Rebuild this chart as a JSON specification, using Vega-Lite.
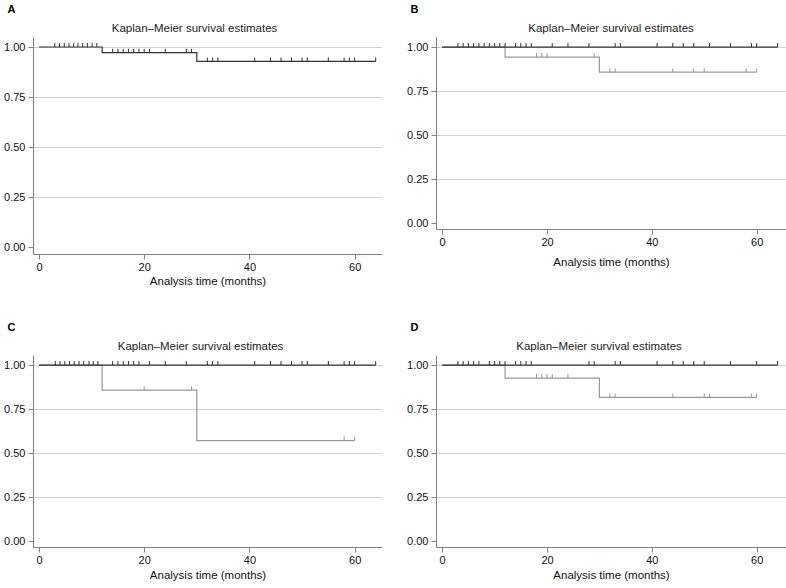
{
  "$schema": "https://vega.github.io/schema/vega-lite/v6.json",
  "padding": {"left": 3, "top": 3, "right": 0, "bottom": 0},
  "background": "white",
  "spacing": 34,
  "config": {
    "font": "Liberation Sans",
    "view": {"stroke": null},
    "concat": {"spacing": 24},
    "title": {"font": "Liberation Sans", "fontSize": 11.5, "fontWeight": "normal", "color": "#222222"},
    "axis": {
      "labelFont": "Liberation Sans", "labelFontSize": 11, "labelColor": "#111111",
      "titleFont": "Liberation Sans", "titleFontSize": 11.5, "titleFontWeight": "normal", "titleColor": "#111111",
      "domainColor": "#808080", "tickColor": "#808080", "gridColor": "#d0d0d0",
      "tickSize": 5, "labelPadding": 2
    }
  },
  "datasets": {
    "curves": [
      {"p": "A", "g": "1", "t": 0, "s": 1}, {"p": "A", "g": "1", "t": 12, "s": 0.972}, {"p": "A", "g": "1", "t": 30, "s": 0.928}, {"p": "A", "g": "1", "t": 64, "s": 0.928},
      {"p": "B", "g": "1", "t": 0, "s": 1}, {"p": "B", "g": "1", "t": 64, "s": 1},
      {"p": "B", "g": "2", "t": 0, "s": 1}, {"p": "B", "g": "2", "t": 12, "s": 0.943}, {"p": "B", "g": "2", "t": 30, "s": 0.857}, {"p": "B", "g": "2", "t": 60, "s": 0.857},
      {"p": "C", "g": "1", "t": 0, "s": 1}, {"p": "C", "g": "1", "t": 64, "s": 1},
      {"p": "C", "g": "2", "t": 0, "s": 1}, {"p": "C", "g": "2", "t": 12, "s": 0.857}, {"p": "C", "g": "2", "t": 30, "s": 0.571}, {"p": "C", "g": "2", "t": 60, "s": 0.571},
      {"p": "D", "g": "1", "t": 0, "s": 1}, {"p": "D", "g": "1", "t": 64, "s": 1},
      {"p": "D", "g": "2", "t": 0, "s": 1}, {"p": "D", "g": "2", "t": 12, "s": 0.926}, {"p": "D", "g": "2", "t": 30, "s": 0.816}, {"p": "D", "g": "2", "t": 60, "s": 0.816}
    ],
    "cens": [
      {"p": "A", "g": "1", "t": 3.0, "s": 1}, {"p": "A", "g": "1", "t": 3.9, "s": 1}, {"p": "A", "g": "1", "t": 4.8, "s": 1}, {"p": "A", "g": "1", "t": 5.7, "s": 1}, {"p": "A", "g": "1", "t": 6.6, "s": 1},
      {"p": "A", "g": "1", "t": 7.4, "s": 1}, {"p": "A", "g": "1", "t": 8.3, "s": 1}, {"p": "A", "g": "1", "t": 9.2, "s": 1}, {"p": "A", "g": "1", "t": 10.1, "s": 1}, {"p": "A", "g": "1", "t": 11.0, "s": 1},
      {"p": "A", "g": "1", "t": 14, "s": 0.972}, {"p": "A", "g": "1", "t": 15, "s": 0.972}, {"p": "A", "g": "1", "t": 16, "s": 0.972}, {"p": "A", "g": "1", "t": 17, "s": 0.972},
      {"p": "A", "g": "1", "t": 18, "s": 0.972}, {"p": "A", "g": "1", "t": 19, "s": 0.972}, {"p": "A", "g": "1", "t": 20, "s": 0.972}, {"p": "A", "g": "1", "t": 21, "s": 0.972},
      {"p": "A", "g": "1", "t": 24, "s": 0.972}, {"p": "A", "g": "1", "t": 28, "s": 0.972}, {"p": "A", "g": "1", "t": 29, "s": 0.972},
      {"p": "A", "g": "1", "t": 32, "s": 0.928}, {"p": "A", "g": "1", "t": 33, "s": 0.928}, {"p": "A", "g": "1", "t": 34, "s": 0.928}, {"p": "A", "g": "1", "t": 41, "s": 0.928},
      {"p": "A", "g": "1", "t": 44, "s": 0.928}, {"p": "A", "g": "1", "t": 46, "s": 0.928}, {"p": "A", "g": "1", "t": 48, "s": 0.928}, {"p": "A", "g": "1", "t": 50, "s": 0.928},
      {"p": "A", "g": "1", "t": 51, "s": 0.928}, {"p": "A", "g": "1", "t": 55, "s": 0.928}, {"p": "A", "g": "1", "t": 58, "s": 0.928}, {"p": "A", "g": "1", "t": 59, "s": 0.928},
      {"p": "A", "g": "1", "t": 60, "s": 0.928}, {"p": "A", "g": "1", "t": 64, "s": 0.928},

      {"p": "B", "g": "1", "t": 3, "s": 1}, {"p": "B", "g": "1", "t": 4, "s": 1}, {"p": "B", "g": "1", "t": 5, "s": 1}, {"p": "B", "g": "1", "t": 6, "s": 1}, {"p": "B", "g": "1", "t": 7, "s": 1},
      {"p": "B", "g": "1", "t": 8, "s": 1}, {"p": "B", "g": "1", "t": 9, "s": 1}, {"p": "B", "g": "1", "t": 10, "s": 1}, {"p": "B", "g": "1", "t": 11, "s": 1}, {"p": "B", "g": "1", "t": 12, "s": 1},
      {"p": "B", "g": "1", "t": 14, "s": 1}, {"p": "B", "g": "1", "t": 15, "s": 1}, {"p": "B", "g": "1", "t": 16, "s": 1}, {"p": "B", "g": "1", "t": 17, "s": 1}, {"p": "B", "g": "1", "t": 21, "s": 1},
      {"p": "B", "g": "1", "t": 24, "s": 1}, {"p": "B", "g": "1", "t": 28, "s": 1}, {"p": "B", "g": "1", "t": 33, "s": 1}, {"p": "B", "g": "1", "t": 34, "s": 1}, {"p": "B", "g": "1", "t": 41, "s": 1},
      {"p": "B", "g": "1", "t": 44, "s": 1}, {"p": "B", "g": "1", "t": 46, "s": 1}, {"p": "B", "g": "1", "t": 48, "s": 1}, {"p": "B", "g": "1", "t": 51, "s": 1}, {"p": "B", "g": "1", "t": 55, "s": 1},
      {"p": "B", "g": "1", "t": 59, "s": 1}, {"p": "B", "g": "1", "t": 60, "s": 1}, {"p": "B", "g": "1", "t": 64, "s": 1},
      {"p": "B", "g": "2", "t": 18, "s": 0.943}, {"p": "B", "g": "2", "t": 19, "s": 0.943}, {"p": "B", "g": "2", "t": 20, "s": 0.943}, {"p": "B", "g": "2", "t": 29, "s": 0.943},
      {"p": "B", "g": "2", "t": 32, "s": 0.857}, {"p": "B", "g": "2", "t": 33, "s": 0.857}, {"p": "B", "g": "2", "t": 44, "s": 0.857}, {"p": "B", "g": "2", "t": 48, "s": 0.857},
      {"p": "B", "g": "2", "t": 50, "s": 0.857}, {"p": "B", "g": "2", "t": 58, "s": 0.857}, {"p": "B", "g": "2", "t": 60, "s": 0.857},

      {"p": "C", "g": "1", "t": 3.1, "s": 1}, {"p": "C", "g": "1", "t": 4.0, "s": 1}, {"p": "C", "g": "1", "t": 4.9, "s": 1}, {"p": "C", "g": "1", "t": 5.8, "s": 1}, {"p": "C", "g": "1", "t": 6.7, "s": 1},
      {"p": "C", "g": "1", "t": 7.6, "s": 1}, {"p": "C", "g": "1", "t": 8.5, "s": 1}, {"p": "C", "g": "1", "t": 9.5, "s": 1}, {"p": "C", "g": "1", "t": 10.3, "s": 1}, {"p": "C", "g": "1", "t": 11.2, "s": 1},
      {"p": "C", "g": "1", "t": 14, "s": 1}, {"p": "C", "g": "1", "t": 15, "s": 1}, {"p": "C", "g": "1", "t": 16, "s": 1}, {"p": "C", "g": "1", "t": 17, "s": 1}, {"p": "C", "g": "1", "t": 18, "s": 1},
      {"p": "C", "g": "1", "t": 19, "s": 1}, {"p": "C", "g": "1", "t": 21, "s": 1}, {"p": "C", "g": "1", "t": 24, "s": 1}, {"p": "C", "g": "1", "t": 28, "s": 1}, {"p": "C", "g": "1", "t": 32, "s": 1},
      {"p": "C", "g": "1", "t": 33, "s": 1}, {"p": "C", "g": "1", "t": 34, "s": 1}, {"p": "C", "g": "1", "t": 41, "s": 1}, {"p": "C", "g": "1", "t": 44, "s": 1}, {"p": "C", "g": "1", "t": 46, "s": 1},
      {"p": "C", "g": "1", "t": 48, "s": 1}, {"p": "C", "g": "1", "t": 50, "s": 1}, {"p": "C", "g": "1", "t": 51, "s": 1}, {"p": "C", "g": "1", "t": 55, "s": 1}, {"p": "C", "g": "1", "t": 58, "s": 1},
      {"p": "C", "g": "1", "t": 59, "s": 1}, {"p": "C", "g": "1", "t": 60, "s": 1}, {"p": "C", "g": "1", "t": 64, "s": 1},
      {"p": "C", "g": "2", "t": 20, "s": 0.857}, {"p": "C", "g": "2", "t": 29, "s": 0.857},
      {"p": "C", "g": "2", "t": 58, "s": 0.571}, {"p": "C", "g": "2", "t": 60, "s": 0.571},

      {"p": "D", "g": "1", "t": 3, "s": 1}, {"p": "D", "g": "1", "t": 4, "s": 1}, {"p": "D", "g": "1", "t": 5, "s": 1}, {"p": "D", "g": "1", "t": 6, "s": 1}, {"p": "D", "g": "1", "t": 7, "s": 1},
      {"p": "D", "g": "1", "t": 9, "s": 1}, {"p": "D", "g": "1", "t": 10, "s": 1}, {"p": "D", "g": "1", "t": 11, "s": 1}, {"p": "D", "g": "1", "t": 12, "s": 1},
      {"p": "D", "g": "1", "t": 14, "s": 1}, {"p": "D", "g": "1", "t": 15, "s": 1}, {"p": "D", "g": "1", "t": 16, "s": 1}, {"p": "D", "g": "1", "t": 17, "s": 1},
      {"p": "D", "g": "1", "t": 28, "s": 1}, {"p": "D", "g": "1", "t": 29, "s": 1}, {"p": "D", "g": "1", "t": 33, "s": 1}, {"p": "D", "g": "1", "t": 34, "s": 1}, {"p": "D", "g": "1", "t": 41, "s": 1},
      {"p": "D", "g": "1", "t": 44, "s": 1}, {"p": "D", "g": "1", "t": 46, "s": 1}, {"p": "D", "g": "1", "t": 48, "s": 1}, {"p": "D", "g": "1", "t": 50, "s": 1}, {"p": "D", "g": "1", "t": 55, "s": 1},
      {"p": "D", "g": "1", "t": 60, "s": 1}, {"p": "D", "g": "1", "t": 64, "s": 1},
      {"p": "D", "g": "2", "t": 18, "s": 0.926}, {"p": "D", "g": "2", "t": 19, "s": 0.926}, {"p": "D", "g": "2", "t": 20, "s": 0.926}, {"p": "D", "g": "2", "t": 21, "s": 0.926}, {"p": "D", "g": "2", "t": 24, "s": 0.926},
      {"p": "D", "g": "2", "t": 32, "s": 0.816}, {"p": "D", "g": "2", "t": 33, "s": 0.816}, {"p": "D", "g": "2", "t": 44, "s": 0.816}, {"p": "D", "g": "2", "t": 50, "s": 0.816},
      {"p": "D", "g": "2", "t": 51, "s": 0.816}, {"p": "D", "g": "2", "t": 59, "s": 0.816}, {"p": "D", "g": "2", "t": 60, "s": 0.816}
    ]
  },
  "vconcat": [
    {
      "hconcat": [
        {
          "title": {"text": "A", "anchor": "start", "fontSize": 11, "fontWeight": "bold", "color": "#000000", "offset": 8, "dx": 4},
          "vconcat": [
            {
              "width": 349, "height": 217,
              "title": {"text": "Kaplan–Meier survival estimates", "offset": 3, "dx": -13},
              "encoding": {
                "x": {"field": "t", "type": "quantitative", "scale": {"domain": [-1.14, 65.2], "nice": false, "zero": false},
                      "axis": {"values": [0, 20, 40, 60], "grid": false, "title": "Analysis time (months)", "titlePadding": 3}},
                "y": {"field": "s", "type": "quantitative", "scale": {"domain": [-0.033, 1.05], "nice": false, "zero": false},
                      "axis": {"values": [0, 0.25, 0.5, 0.75, 1], "format": ".2f", "title": null, "grid": true, "labelPadding": 3,
                               "gridOpacity": {"condition": {"test": "datum.value === 0", "value": 0}, "value": 1}}},
                "color": {"field": "g", "type": "nominal", "scale": {"domain": ["1", "2"], "range": ["#333333", "#999999"]}, "legend": null}
              },
              "layer": [
                {"data": {"name": "curves"}, "transform": [{"filter": "datum.p === 'A' && datum.g === '2'"}], "mark": {"type": "line", "interpolate": "step-after", "strokeWidth": 1.2}},
                {"data": {"name": "curves"}, "transform": [{"filter": "datum.p === 'A' && datum.g === '1'"}], "mark": {"type": "line", "interpolate": "step-after", "strokeWidth": 1.2}},
                {"data": {"name": "cens"}, "transform": [{"filter": "datum.p === 'A'"}], "mark": {"type": "tick", "orient": "vertical", "size": 4, "thickness": 1, "yOffset": -2, "opacity": 1}}
              ]
            }
          ]
        },
        {
          "title": {"text": "B", "anchor": "start", "fontSize": 11, "fontWeight": "bold", "color": "#000000", "offset": 8, "dx": 4},
          "vconcat": [
            {
              "width": 350, "height": 192,
              "title": {"text": "Kaplan–Meier survival estimates", "offset": 3, "dx": 0},
              "encoding": {
                "x": {"field": "t", "type": "quantitative", "scale": {"domain": [-1.18, 65.6], "nice": false, "zero": false},
                      "axis": {"values": [0, 20, 40, 60], "grid": false, "title": "Analysis time (months)", "titlePadding": 9}},
                "y": {"field": "s", "type": "quantitative", "scale": {"domain": [-0.034, 1.057], "nice": false, "zero": false},
                      "axis": {"values": [0, 0.25, 0.5, 0.75, 1], "format": ".2f", "title": null, "grid": true, "labelPadding": 3,
                               "gridOpacity": {"condition": {"test": "datum.value === 0", "value": 0}, "value": 1}}},
                "color": {"field": "g", "type": "nominal", "scale": {"domain": ["1", "2"], "range": ["#333333", "#999999"]}, "legend": null}
              },
              "layer": [
                {"data": {"name": "curves"}, "transform": [{"filter": "datum.p === 'B' && datum.g === '2'"}], "mark": {"type": "line", "interpolate": "step-after", "strokeWidth": 1.2}},
                {"data": {"name": "curves"}, "transform": [{"filter": "datum.p === 'B' && datum.g === '1'"}], "mark": {"type": "line", "interpolate": "step-after", "strokeWidth": 1.2}},
                {"data": {"name": "cens"}, "transform": [{"filter": "datum.p === 'B'"}], "mark": {"type": "tick", "orient": "vertical", "size": 4, "thickness": 1, "yOffset": -2, "opacity": 1}}
              ]
            }
          ]
        }
      ]
    },
    {
      "hconcat": [
        {
          "title": {"text": "C", "anchor": "start", "fontSize": 11, "fontWeight": "bold", "color": "#000000", "offset": 8, "dx": 4},
          "vconcat": [
            {
              "width": 349, "height": 192,
              "title": {"text": "Kaplan–Meier survival estimates", "offset": 3, "dx": -7},
              "encoding": {
                "x": {"field": "t", "type": "quantitative", "scale": {"domain": [-1.14, 65.2], "nice": false, "zero": false},
                      "axis": {"values": [0, 20, 40, 60], "grid": false, "title": "Analysis time (months)", "titlePadding": 4}},
                "y": {"field": "s", "type": "quantitative", "scale": {"domain": [-0.034, 1.057], "nice": false, "zero": false},
                      "axis": {"values": [0, 0.25, 0.5, 0.75, 1], "format": ".2f", "title": null, "grid": true, "labelPadding": 3,
                               "gridOpacity": {"condition": {"test": "datum.value === 0", "value": 0}, "value": 1}}},
                "color": {"field": "g", "type": "nominal", "scale": {"domain": ["1", "2"], "range": ["#333333", "#999999"]}, "legend": null}
              },
              "layer": [
                {"data": {"name": "curves"}, "transform": [{"filter": "datum.p === 'C' && datum.g === '2'"}], "mark": {"type": "line", "interpolate": "step-after", "strokeWidth": 1.2}},
                {"data": {"name": "curves"}, "transform": [{"filter": "datum.p === 'C' && datum.g === '1'"}], "mark": {"type": "line", "interpolate": "step-after", "strokeWidth": 1.2}},
                {"data": {"name": "cens"}, "transform": [{"filter": "datum.p === 'C'"}], "mark": {"type": "tick", "orient": "vertical", "size": 4, "thickness": 1, "yOffset": -2, "opacity": 1}}
              ]
            }
          ]
        },
        {
          "title": {"text": "D", "anchor": "start", "fontSize": 11, "fontWeight": "bold", "color": "#000000", "offset": 8, "dx": 4},
          "vconcat": [
            {
              "width": 350, "height": 192,
              "title": {"text": "Kaplan–Meier survival estimates", "offset": 3, "dx": -12},
              "encoding": {
                "x": {"field": "t", "type": "quantitative", "scale": {"domain": [-1.18, 65.6], "nice": false, "zero": false},
                      "axis": {"values": [0, 20, 40, 60], "grid": false, "title": "Analysis time (months)", "titlePadding": 4}},
                "y": {"field": "s", "type": "quantitative", "scale": {"domain": [-0.034, 1.057], "nice": false, "zero": false},
                      "axis": {"values": [0, 0.25, 0.5, 0.75, 1], "format": ".2f", "title": null, "grid": true, "labelPadding": 3,
                               "gridOpacity": {"condition": {"test": "datum.value === 0", "value": 0}, "value": 1}}},
                "color": {"field": "g", "type": "nominal", "scale": {"domain": ["1", "2"], "range": ["#333333", "#999999"]}, "legend": null}
              },
              "layer": [
                {"data": {"name": "curves"}, "transform": [{"filter": "datum.p === 'D' && datum.g === '2'"}], "mark": {"type": "line", "interpolate": "step-after", "strokeWidth": 1.2}},
                {"data": {"name": "curves"}, "transform": [{"filter": "datum.p === 'D' && datum.g === '1'"}], "mark": {"type": "line", "interpolate": "step-after", "strokeWidth": 1.2}},
                {"data": {"name": "cens"}, "transform": [{"filter": "datum.p === 'D'"}], "mark": {"type": "tick", "orient": "vertical", "size": 4, "thickness": 1, "yOffset": -2, "opacity": 1}}
              ]
            }
          ]
        }
      ]
    }
  ]
}
